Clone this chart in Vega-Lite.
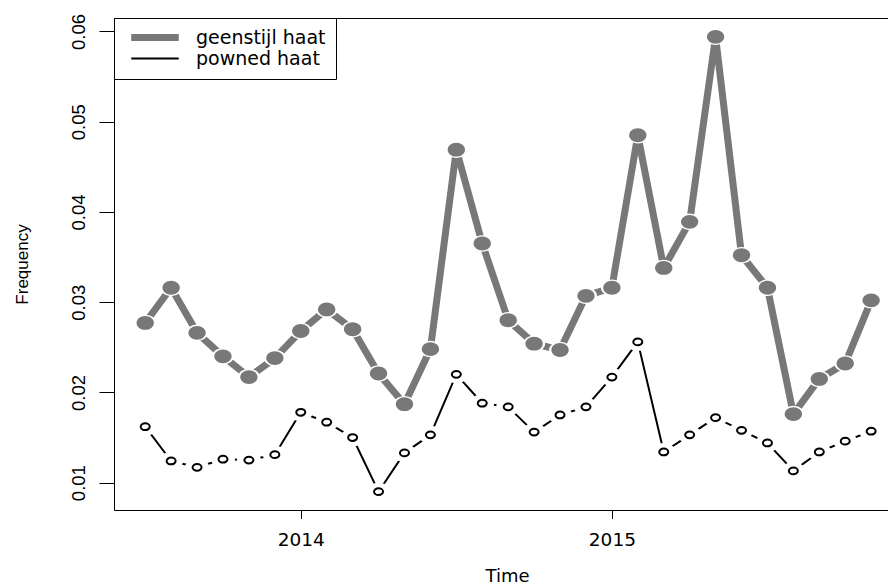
{
  "$schema": "https://vega.github.io/schema/vega-lite/v6.json",
  "width": 774,
  "height": 492,
  "autosize": {"type": "none"},
  "padding": {"left": 114, "top": 18, "right": 0, "bottom": 75},
  "background": "white",
  "config": {
    "view": {"stroke": null},
    "axis": {"grid": false, "domainColor": "black", "tickColor": "black", "labelColor": "black", "titleColor": "black", "titleFontWeight": "normal"},
    "legend": {"orient": "none", "legendX": 0, "legendY": 0, "strokeColor": "black", "fillColor": "white", "padding": 10, "cornerRadius": 0, "symbolType": "M-3.96,0L3.96,0", "symbolSize": 144, "symbolOffset": 21.5, "labelFont": "DejaVu Sans", "labelFontSize": 19, "labelColor": "black", "labelOffset": 31.5, "rowPadding": 1, "clipHeight": 19}
  },
  "data": {"values": [
    {"t": 2013.5, "v": 0.0277, "s": "geenstijl haat"},
    {"t": 2013.5833, "v": 0.0316, "s": "geenstijl haat"},
    {"t": 2013.6667, "v": 0.0266, "s": "geenstijl haat"},
    {"t": 2013.75, "v": 0.0240, "s": "geenstijl haat"},
    {"t": 2013.8333, "v": 0.0217, "s": "geenstijl haat"},
    {"t": 2013.9167, "v": 0.0238, "s": "geenstijl haat"},
    {"t": 2014.0, "v": 0.0268, "s": "geenstijl haat"},
    {"t": 2014.0833, "v": 0.0292, "s": "geenstijl haat"},
    {"t": 2014.1667, "v": 0.0270, "s": "geenstijl haat"},
    {"t": 2014.25, "v": 0.0221, "s": "geenstijl haat"},
    {"t": 2014.3333, "v": 0.0187, "s": "geenstijl haat"},
    {"t": 2014.4167, "v": 0.0248, "s": "geenstijl haat"},
    {"t": 2014.5, "v": 0.0469, "s": "geenstijl haat"},
    {"t": 2014.5833, "v": 0.0365, "s": "geenstijl haat"},
    {"t": 2014.6667, "v": 0.0280, "s": "geenstijl haat"},
    {"t": 2014.75, "v": 0.0254, "s": "geenstijl haat"},
    {"t": 2014.8333, "v": 0.0247, "s": "geenstijl haat"},
    {"t": 2014.9167, "v": 0.0307, "s": "geenstijl haat"},
    {"t": 2015.0, "v": 0.0316, "s": "geenstijl haat"},
    {"t": 2015.0833, "v": 0.0485, "s": "geenstijl haat"},
    {"t": 2015.1667, "v": 0.0338, "s": "geenstijl haat"},
    {"t": 2015.25, "v": 0.0389, "s": "geenstijl haat"},
    {"t": 2015.3333, "v": 0.0594, "s": "geenstijl haat"},
    {"t": 2015.4167, "v": 0.0352, "s": "geenstijl haat"},
    {"t": 2015.5, "v": 0.0316, "s": "geenstijl haat"},
    {"t": 2015.5833, "v": 0.0176, "s": "geenstijl haat"},
    {"t": 2015.6667, "v": 0.0215, "s": "geenstijl haat"},
    {"t": 2015.75, "v": 0.0232, "s": "geenstijl haat"},
    {"t": 2015.8333, "v": 0.0302, "s": "geenstijl haat"},
    {"t": 2013.5, "v": 0.0162, "s": "powned haat"},
    {"t": 2013.5833, "v": 0.0124, "s": "powned haat"},
    {"t": 2013.6667, "v": 0.0117, "s": "powned haat"},
    {"t": 2013.75, "v": 0.0126, "s": "powned haat"},
    {"t": 2013.8333, "v": 0.0125, "s": "powned haat"},
    {"t": 2013.9167, "v": 0.0131, "s": "powned haat"},
    {"t": 2014.0, "v": 0.0178, "s": "powned haat"},
    {"t": 2014.0833, "v": 0.0167, "s": "powned haat"},
    {"t": 2014.1667, "v": 0.0150, "s": "powned haat"},
    {"t": 2014.25, "v": 0.0090, "s": "powned haat"},
    {"t": 2014.3333, "v": 0.0133, "s": "powned haat"},
    {"t": 2014.4167, "v": 0.0153, "s": "powned haat"},
    {"t": 2014.5, "v": 0.0220, "s": "powned haat"},
    {"t": 2014.5833, "v": 0.0188, "s": "powned haat"},
    {"t": 2014.6667, "v": 0.0184, "s": "powned haat"},
    {"t": 2014.75, "v": 0.0156, "s": "powned haat"},
    {"t": 2014.8333, "v": 0.0175, "s": "powned haat"},
    {"t": 2014.9167, "v": 0.0184, "s": "powned haat"},
    {"t": 2015.0, "v": 0.0217, "s": "powned haat"},
    {"t": 2015.0833, "v": 0.0256, "s": "powned haat"},
    {"t": 2015.1667, "v": 0.0134, "s": "powned haat"},
    {"t": 2015.25, "v": 0.0153, "s": "powned haat"},
    {"t": 2015.3333, "v": 0.0172, "s": "powned haat"},
    {"t": 2015.4167, "v": 0.0158, "s": "powned haat"},
    {"t": 2015.5, "v": 0.0144, "s": "powned haat"},
    {"t": 2015.5833, "v": 0.0113, "s": "powned haat"},
    {"t": 2015.6667, "v": 0.0134, "s": "powned haat"},
    {"t": 2015.75, "v": 0.0146, "s": "powned haat"},
    {"t": 2015.8333, "v": 0.0157, "s": "powned haat"}
  ]},
  "resolve": {"scale": {"x": "independent"}, "axis": {"x": "independent"}},
  "layer": [
    {
      "mark": {"type": "line", "strokeCap": "round", "strokeJoin": "round", "clip": true},
      "encoding": {
        "x": {"field": "t", "type": "quantitative", "scale": {"domain": [2013.3997, 2015.8875], "nice": false, "zero": false},
          "axis": {"orient": "bottom", "values": [2014, 2015], "format": "d", "tickSize": 8.5, "labelFont": "DejaVu Sans", "labelFontSize": 18.5, "labelBaseline": "alphabetic", "labelPadding": 27, "labelFlush": false,
            "title": "Time", "titleFont": "DejaVu Sans", "titleFontSize": 18, "titleBaseline": "alphabetic", "titleAlign": "center", "titleX": 393, "titleY": 71}},
        "y": {"field": "v", "type": "quantitative", "scale": {"domain": [0.00697, 0.06149], "nice": false, "zero": false},
          "axis": {"values": [0.01, 0.02, 0.03, 0.04, 0.05, 0.06], "format": ".2f", "tickSize": 15, "labelAngle": -90, "labelAlign": "center", "labelBaseline": "alphabetic", "labelPadding": 15, "labelFont": "Liberation Sans", "labelFontSize": 18.5, "labelFlush": false,
            "title": "Frequency", "titleFont": "Liberation Sans", "titleFontSize": 17, "titleColor": "black", "titleAngle": -90, "titleAlign": "center", "titleBaseline": "alphabetic", "titleX": -87, "titleY": 246}},
        "color": {"field": "s", "type": "nominal", "scale": {"domain": ["geenstijl haat", "powned haat"], "range": ["#787878", "#000000"]}, "legend": {"title": null}},
        "strokeWidth": {"field": "s", "type": "nominal", "scale": {"type": "ordinal", "domain": ["geenstijl haat", "powned haat"], "range": [7, 2]}, "legend": {"title": null}}
      }
    },
    {
      "transform": [{"filter": "datum.s === 'geenstijl haat'"}],
      "mark": {"type": "point", "filled": true, "color": "white", "opacity": 1, "size": 484, "shape": "M-1,0A1,0.75,0,1,1,1,0A1,0.75,0,1,1,-1,0Z"},
      "encoding": {
        "x": {"field": "t", "type": "quantitative", "scale": {"domain": [2013.3997, 2015.8875], "nice": false, "zero": false}, "axis": null},
        "y": {"field": "v", "type": "quantitative"}
      }
    },
    {
      "transform": [{"filter": "datum.s === 'geenstijl haat'"}],
      "mark": {"type": "point", "filled": true, "color": "#787878", "opacity": 1, "size": 300, "shape": "M-1,0A1,0.8,0,1,1,1,0A1,0.8,0,1,1,-1,0Z"},
      "encoding": {
        "x": {"field": "t", "type": "quantitative", "scale": {"domain": [2013.3997, 2015.8875], "nice": false, "zero": false}, "axis": null},
        "y": {"field": "v", "type": "quantitative"}
      }
    },
    {
      "transform": [{"filter": "datum.s === 'powned haat'"}],
      "mark": {"type": "point", "filled": true, "color": "white", "opacity": 1, "size": 576, "shape": "M-1,0A1,0.75,0,1,1,1,0A1,0.75,0,1,1,-1,0Z"},
      "encoding": {
        "x": {"field": "t", "type": "quantitative", "scale": {"domain": [2013.3997, 2015.8875], "nice": false, "zero": false}, "axis": null},
        "y": {"field": "v", "type": "quantitative"}
      }
    },
    {
      "transform": [{"filter": "datum.s === 'powned haat'"}],
      "mark": {"type": "point", "filled": false, "fill": "white", "stroke": "black", "strokeWidth": 2, "opacity": 1, "size": 81, "shape": "M-1,0A1,0.75,0,1,1,1,0A1,0.75,0,1,1,-1,0Z"},
      "encoding": {
        "x": {"field": "t", "type": "quantitative", "scale": {"domain": [2013.3997, 2015.8875], "nice": false, "zero": false},
          "axis": {"orient": "top", "labels": false, "ticks": false, "domain": true, "title": null, "grid": false}},
        "y": {"field": "v", "type": "quantitative"}
      }
    }
  ]
}
